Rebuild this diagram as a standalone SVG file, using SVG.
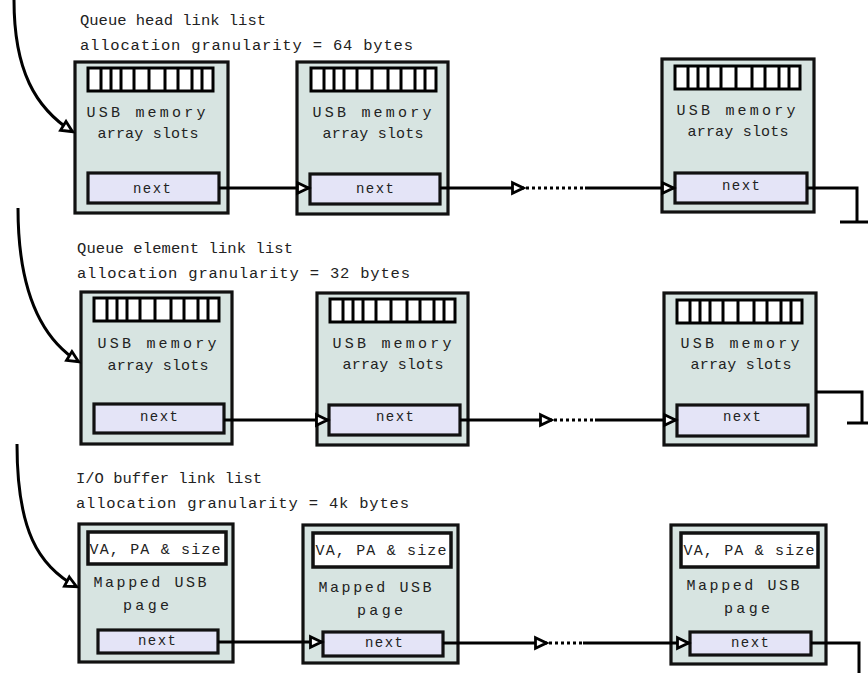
<svg xmlns="http://www.w3.org/2000/svg" width="868" height="673" viewBox="0 0 868 673">
<defs>
<marker id="ah" markerUnits="userSpaceOnUse" markerWidth="14" markerHeight="14" viewBox="0 0 14 14" refX="13" refY="7" orient="auto" overflow="visible">
<path d="M1.5,1.8 L12.5,7 L1.5,12.2 Z" fill="#fff" stroke="#000" stroke-width="2.8" stroke-linejoin="miter"/>
</marker>
<g id="slots">
<rect x="0" y="0" width="125" height="23" fill="#fff" stroke="#000" stroke-width="3"/>
<path d="M13,0V23M23,0V23M33,0V23M46,0V23M61,0V23M77,0V23M90,0V23M104,0V23M114,0V23" stroke="#000" stroke-width="3"/>
</g>
</defs>
<style>
.box{fill:#d7e4e1;stroke:#111;stroke-width:3.2}
.nx{fill:#e4e4f7;stroke:#111;stroke-width:3.2}
.va{fill:#fff;stroke:#111;stroke-width:3.5}
.t{font-family:"Liberation Mono","DejaVu Sans Mono",monospace;font-size:15.5px;fill:#222}
.n{font-family:"Liberation Mono","DejaVu Sans Mono",monospace;font-size:15px;fill:#222;text-anchor:middle}
.s{font-size:14px}
.ln{fill:none;stroke:#000;stroke-width:3}
.dt{fill:none;stroke:#000;stroke-width:3;stroke-dasharray:3 3}
</style>
<rect width="868" height="673" fill="#fff"/>

<g id="titles">
<text class="t" x="80" y="25" textLength="186" lengthAdjust="spacing">Queue head link list</text>
<text class="t" x="80" y="50" textLength="333" lengthAdjust="spacing">allocation granularity = 64 bytes</text>
<text class="t" x="77" y="253" textLength="216" lengthAdjust="spacing">Queue element link list</text>
<text class="t" x="77" y="278" textLength="333" lengthAdjust="spacing">allocation granularity = 32 bytes</text>
<text class="t" x="76" y="483" textLength="186" lengthAdjust="spacing">I/O buffer link list</text>
<text class="t" x="76" y="508" textLength="333" lengthAdjust="spacing">allocation granularity = 4k bytes</text>
</g>

<g id="qh1">
<rect class="box" x="75" y="62" width="153" height="151"/>
<use href="#slots" x="88" y="68"/>
<text class="n" x="146" y="117" textLength="119" lengthAdjust="spacing">USB memory</text>
<text class="n" x="148" y="138" textLength="101" lengthAdjust="spacing">array slots</text>
<rect class="nx" x="88" y="173" width="131" height="30"/>
<text class="n s" x="152" y="193" textLength="38" lengthAdjust="spacing">next</text>
</g>
<g id="qh2">
<rect class="box" x="297" y="62" width="151" height="152"/>
<use href="#slots" x="311" y="68"/>
<text class="n" x="372" y="117" textLength="119" lengthAdjust="spacing">USB memory</text>
<text class="n" x="373" y="138" textLength="101" lengthAdjust="spacing">array slots</text>
<rect class="nx" x="310" y="174" width="130" height="30"/>
<text class="n s" x="375" y="193" textLength="38" lengthAdjust="spacing">next</text>
</g>
<g id="qh3">
<rect class="box" x="662" y="59" width="152" height="153"/>
<use href="#slots" x="675" y="66"/>
<text class="n" x="736" y="115" textLength="119" lengthAdjust="spacing">USB memory</text>
<text class="n" x="738" y="136" textLength="101" lengthAdjust="spacing">array slots</text>
<rect class="nx" x="675" y="173" width="132" height="30"/>
<text class="n s" x="741" y="190" textLength="38" lengthAdjust="spacing">next</text>
</g>

<g id="qe1">
<rect class="box" x="81" y="292" width="151" height="152"/>
<use href="#slots" x="94" y="298"/>
<text class="n" x="157" y="348" textLength="119" lengthAdjust="spacing">USB memory</text>
<text class="n" x="158" y="370" textLength="101" lengthAdjust="spacing">array slots</text>
<rect class="nx" x="94" y="404" width="130" height="29"/>
<text class="n s" x="159" y="421" textLength="38" lengthAdjust="spacing">next</text>
</g>
<g id="qe2">
<rect class="box" x="317" y="293" width="151" height="152"/>
<use href="#slots" x="330" y="299"/>
<text class="n" x="392" y="348" textLength="119" lengthAdjust="spacing">USB memory</text>
<text class="n" x="393" y="369" textLength="101" lengthAdjust="spacing">array slots</text>
<rect class="nx" x="329" y="405" width="131" height="30"/>
<text class="n s" x="395" y="421" textLength="38" lengthAdjust="spacing">next</text>
</g>
<g id="qe3">
<rect class="box" x="664" y="293" width="152" height="152"/>
<use href="#slots" x="677" y="300"/>
<text class="n" x="740" y="348" textLength="119" lengthAdjust="spacing">USB memory</text>
<text class="n" x="741" y="369" textLength="101" lengthAdjust="spacing">array slots</text>
<rect class="nx" x="677" y="405" width="131" height="31"/>
<text class="n s" x="742" y="421" textLength="38" lengthAdjust="spacing">next</text>
</g>

<g id="io1">
<rect class="box" x="79" y="524" width="154" height="138"/>
<rect class="va" x="88" y="532" width="138" height="32"/>
<text class="n" x="155" y="554" textLength="131" lengthAdjust="spacing">VA, PA &amp; size</text>
<text class="n" x="150" y="587" textLength="113" lengthAdjust="spacing">Mapped USB</text>
<text class="n" x="146" y="610" textLength="46" lengthAdjust="spacing">page</text>
<rect class="nx" x="98" y="630" width="120" height="23"/>
<text class="n s" x="157" y="645" textLength="38" lengthAdjust="spacing">next</text>
</g>
<g id="io2">
<rect class="box" x="303" y="525" width="155" height="138"/>
<rect class="va" x="313" y="533" width="138" height="34"/>
<text class="n" x="381" y="555" textLength="131" lengthAdjust="spacing">VA, PA &amp; size</text>
<text class="n" x="375" y="592" textLength="113" lengthAdjust="spacing">Mapped USB</text>
<text class="n" x="380" y="615" textLength="46" lengthAdjust="spacing">page</text>
<rect class="nx" x="323" y="632" width="120" height="24"/>
<text class="n s" x="384" y="647" textLength="38" lengthAdjust="spacing">next</text>
</g>
<g id="io3">
<rect class="box" x="671" y="525" width="155" height="139"/>
<rect class="va" x="681" y="533" width="137" height="34"/>
<text class="n" x="749" y="555" textLength="131" lengthAdjust="spacing">VA, PA &amp; size</text>
<text class="n" x="743" y="590" textLength="113" lengthAdjust="spacing">Mapped USB</text>
<text class="n" x="747" y="613" textLength="46" lengthAdjust="spacing">page</text>
<rect class="nx" x="690" y="632" width="121" height="23"/>
<text class="n s" x="750" y="647" textLength="38" lengthAdjust="spacing">next</text>
</g>

<g id="connectors">
<path class="ln" d="M14,0 C14,70 35,108 73,132" marker-end="url(#ah)"/>
<path class="ln" d="M18,208 C18,290 40,338 79,362" marker-end="url(#ah)"/>
<path class="ln" d="M17,444 C17,530 38,566 77,587" marker-end="url(#ah)"/>

<path class="ln" d="M219,188 H309" marker-end="url(#ah)"/>
<path class="ln" d="M440,188 H524" marker-end="url(#ah)"/>
<path class="dt" d="M526,188 H585"/>
<path class="ln" d="M585,188 H674" marker-end="url(#ah)"/>
<path class="ln" d="M807,188 H857 V222"/>
<path class="ln" d="M840,222 H868"/>

<path class="ln" d="M224,420 H328" marker-end="url(#ah)"/>
<path class="ln" d="M460,420 H552" marker-end="url(#ah)"/>
<path class="dt" d="M554,420 H595"/>
<path class="ln" d="M595,420 H676" marker-end="url(#ah)"/>
<path class="ln" d="M816,392 H862 V423"/>
<path class="ln" d="M847,423 H868"/>

<path class="ln" d="M218,642 H322" marker-end="url(#ah)"/>
<path class="ln" d="M443,643 H547" marker-end="url(#ah)"/>
<path class="dt" d="M549,643 H583"/>
<path class="ln" d="M583,643 H689" marker-end="url(#ah)"/>
<path class="ln" d="M811,643 H859 V673"/>
</g>
</svg>
